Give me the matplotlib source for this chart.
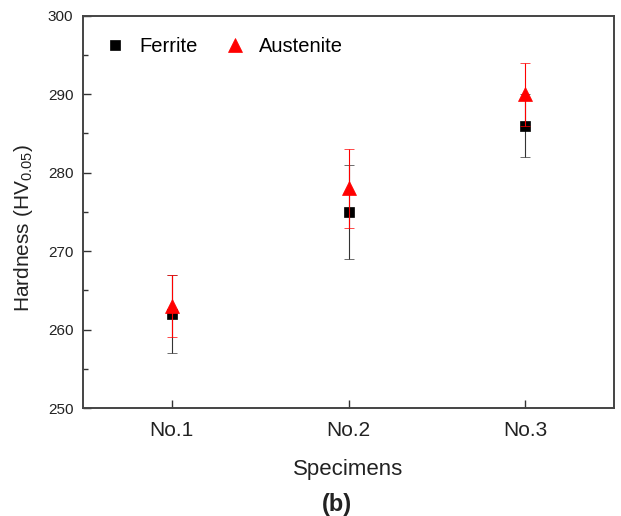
import matplotlib
matplotlib.use("Agg")
import matplotlib.pyplot as plt
from matplotlib.ticker import MultipleLocator

plt.rcParams['font.family'] = ['Liberation Sans', 'DejaVu Sans']
plt.rcParams['mathtext.fontset'] = 'custom'
plt.rcParams['mathtext.rm'] = 'Liberation Sans'
plt.rcParams['mathtext.it'] = 'Liberation Sans'

categories = ["No.1", "No.2", "No.3"]
ferrite = [262, 275, 286]
ferrite_err = [5, 6, 4]
austenite = [263, 278, 290]
austenite_err = [4, 5, 4]

fig = plt.figure(figsize=(6.21, 5.16), dpi=100)
ax = fig.add_axes([0.1337, 0.2093, 0.855, 0.760])

x = list(range(1, len(categories) + 1))
ef = ax.errorbar(x, ferrite, yerr=ferrite_err, fmt='s', color='black', ecolor='#333333',
                 elinewidth=0.8, capsize=3.5, capthick=0.8, markersize=7.5, mew=0.5,
                 zorder=3)
ea = ax.errorbar(x, austenite, yerr=austenite_err, fmt='^', color='red', ecolor='red',
                 elinewidth=0.8, capsize=3.5, capthick=0.8, markersize=10.5, mew=0.5,
                 zorder=4)

ax.set_xlim(0.5, 3.5)
ax.set_ylim(250, 300)
ax.set_xticks(x)
ax.set_xticklabels(categories, fontsize=15)
ax.yaxis.set_major_locator(MultipleLocator(10))
ax.yaxis.set_minor_locator(MultipleLocator(5))
ax.tick_params(axis='both', which='major', direction='in', length=5.5, width=1,
               colors='#333333', labelcolor='#222222')
ax.tick_params(axis='y', which='minor', direction='in', length=3.5, width=1, colors='#333333')
ax.tick_params(axis='y', labelsize=11, pad=7)
ax.tick_params(axis='x', pad=9)
for s in ax.spines.values():
    s.set_linewidth(1.4)
    s.set_color('#444444')

ax.set_ylabel('Hardness (HV$_{0.05}$)', fontsize=15, color='#222222')
ax.yaxis.set_label_coords(-0.09, 0.46)
ax.set_xlabel('Specimens', fontsize=16, labelpad=14, color='#222222')

leg = ax.legend([ef[0], ea[0]], ['Ferrite', 'Austenite'], loc='upper left', ncol=2,
                frameon=False, fontsize=14.5, handlelength=1.0, handletextpad=0.7,
                columnspacing=1.35, borderpad=0, borderaxespad=0,
                bbox_to_anchor=(0.041, 0.945))
fig.text(0.543, 0.0, '(b)', ha='center', va='bottom', fontsize=17, fontweight='bold',
         color='#222222')

fig.savefig('out.png', dpi=100)
